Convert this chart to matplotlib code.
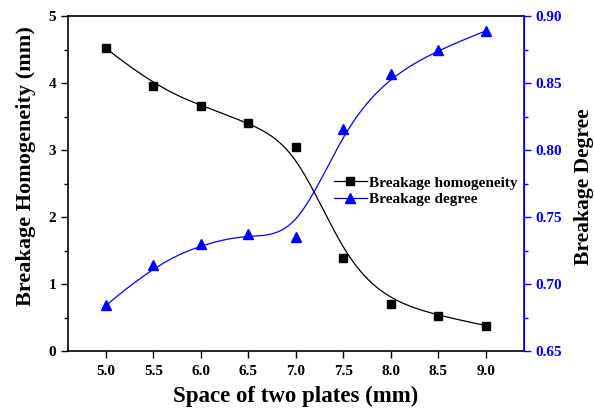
import numpy as np
import matplotlib.pyplot as plt
from matplotlib.ticker import MultipleLocator

###Data
spacing = np.array([5.0, 5.5, 6.0, 6.5, 7.0, 7.5, 8.0, 8.5, 9.0])  # mm
homogeneity = np.array([4.52, 3.96, 3.66, 3.41, 3.05, 1.39, 0.70, 0.53, 0.38])  # mm
degree = np.array([0.684, 0.714, 0.730, 0.737, 0.735, 0.816, 0.857, 0.875, 0.889])


def bspline(px, py, k=3, num=400):
	"""Clamped uniform B-spline through control points (px, py)"""
	n = len(px)
	inner = np.arange(1, n - k)
	knots = np.concatenate([np.zeros(k + 1), inner, np.full(k + 1, n - k)]).astype(float)
	t = np.linspace(0, n - k, num)
	t[-1] -= 1e-9
	#Cox-de Boor recursion
	N = np.array([((knots[i] <= t) & (t < knots[i + 1])).astype(float) for i in range(len(knots) - 1)])
	for p in range(1, k + 1):
		Nn = np.zeros((len(knots) - 1 - p, len(t)))
		for i in range(len(knots) - 1 - p):
			d1 = knots[i + p] - knots[i]
			d2 = knots[i + p + 1] - knots[i + 1]
			a = (t - knots[i]) / d1 * N[i] if d1 > 0 else 0
			b = (knots[i + p + 1] - t) / d2 * N[i + 1] if d2 > 0 else 0
			Nn[i] = a + b
		N = Nn
	return N.T @ px, N.T @ py


plt.rcParams['font.family'] = ['Liberation Serif', 'DejaVu Serif']
plt.rcParams['font.weight'] = 'bold'

fig = plt.figure(figsize=(5.94, 4.13), dpi=100)
ax = fig.add_axes([0.1145, 0.150, 0.7675, 0.811])
ax2 = ax.twinx()

blue = '#0000ff'

cx, cy = bspline(spacing, homogeneity)
ax.plot(cx, cy, color='black', lw=0.9)
ax.plot(spacing, homogeneity, 's', color='black', ms=5.5, ls='none')

dx, dy = bspline(spacing, degree)
ax2.plot(dx, dy, color=blue, lw=0.9)
ax2.plot(spacing, degree, '^', color=blue, ms=6.5, ls='none')

ax.set_xlim(4.6, 9.4)
ax.set_ylim(0, 5)
ax2.set_ylim(0.65, 0.90)
ax.set_xticks(spacing)
ax.set_xticklabels(['%.1f' % v for v in spacing])
ax.yaxis.set_major_locator(MultipleLocator(1))
ax.yaxis.set_minor_locator(MultipleLocator(0.5))
ax2.yaxis.set_major_locator(MultipleLocator(0.05))
ax2.yaxis.set_minor_locator(MultipleLocator(0.025))
ax2.set_yticklabels(['%.2f' % v for v in ax2.get_yticks()])

ax.tick_params(axis='both', which='major', direction='out', length=5, width=1, labelsize=11)
ax.tick_params(axis='y', which='minor', direction='out', length=3, width=1)
ax.tick_params(axis='x', pad=5)
ax2.tick_params(axis='y', which='major', direction='out', length=5, width=1, labelsize=11,
				colors=blue, labelcolor=blue)
ax2.tick_params(axis='y', which='minor', direction='out', length=3, width=1, colors=blue)
ax2.spines['right'].set_color(blue)
ax2.spines['left'].set_visible(False)
ax2.spines['top'].set_visible(False)
ax2.spines['bottom'].set_visible(False)
for s in ['left', 'bottom', 'top']:
	ax.spines[s].set_linewidth(1.2)
ax2.spines['right'].set_linewidth(1.2)

ax.set_xlabel('Space of two plates (mm)', fontsize=16.5, fontweight='bold', labelpad=6)
ax.set_ylabel('Breakage Homogeneity (mm)', fontsize=16, fontweight='bold')
ax2.set_ylabel('Breakage Degree', fontsize=15.5, fontweight='bold')
ax.yaxis.set_label_coords(-0.070, 0.552)
ax2.yaxis.set_label_coords(1.109, 0.49)

h1, = ax.plot([], [], 's-', color='black', ms=5.5, lw=0.9)
h2, = ax.plot([], [], '^-', color=blue, ms=6.5, lw=0.9)
ax.legend([h1, h2], ['Breakage homogeneity', 'Breakage degree'], loc='upper left',
		  bbox_to_anchor=(0.569, 0.541), frameon=False, fontsize=11, handlelength=2.2,
		  handletextpad=0.1, labelspacing=0.2, borderaxespad=0)

fig.savefig('out.png', dpi=100)
